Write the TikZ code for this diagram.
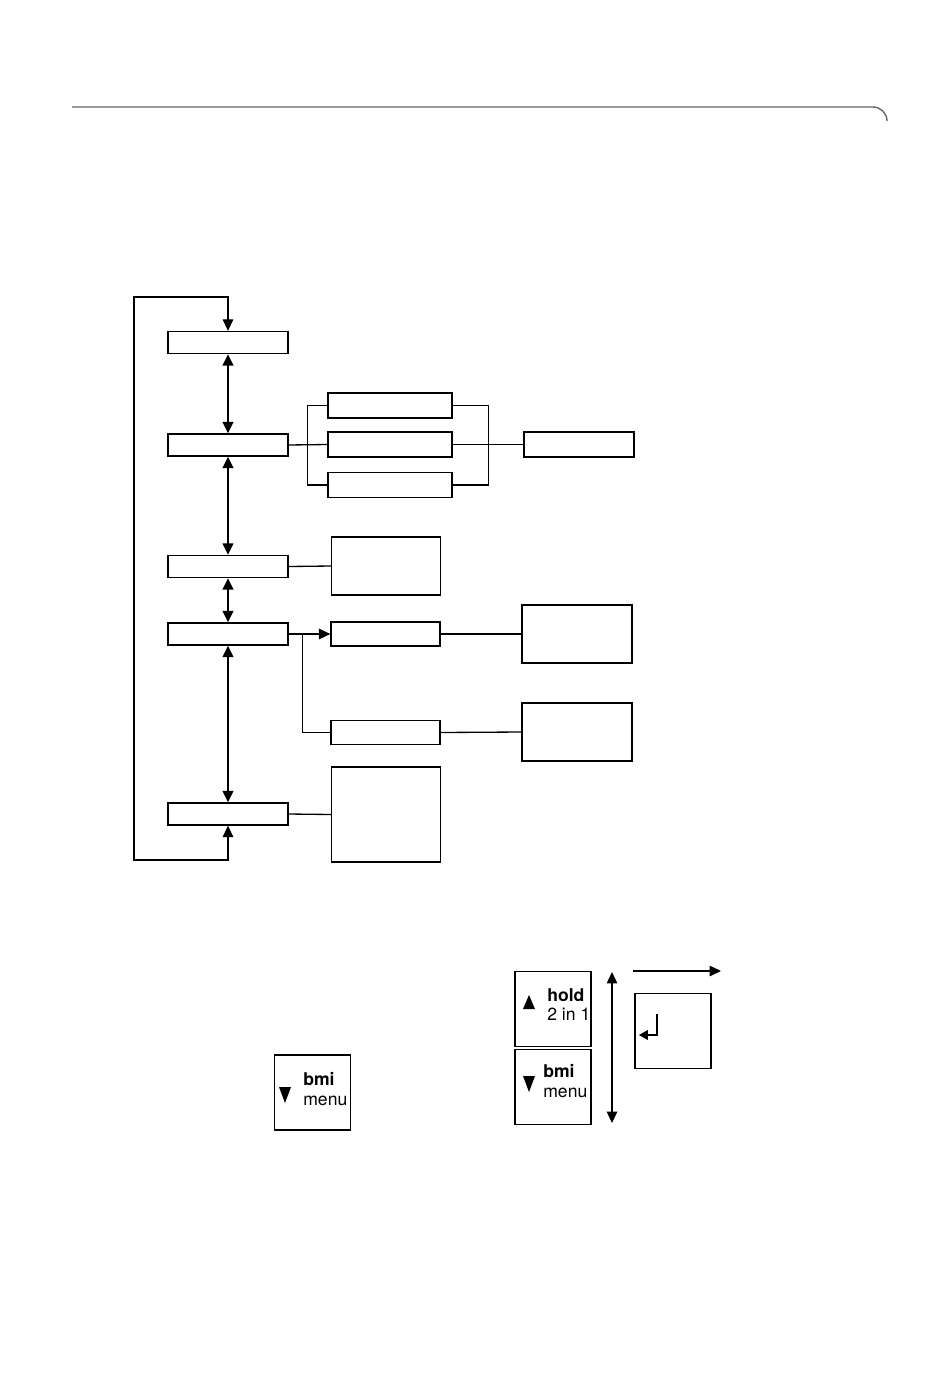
\documentclass[tikz,border=0pt]{standalone}
\usepackage{fontspec}
\setmainfont{TeX Gyre Heros}
\usetikzlibrary{arrows.meta}

\begin{document}
\begin{tikzpicture}[x=0.02cm,y=-0.02cm,
    box/.style={draw,line width=0.75pt,inner sep=0pt,minimum width=2.4cm,minimum height=0.44cm},
    subbox/.style={draw,line width=0.75pt,inner sep=0pt,minimum width=2.48cm,minimum height=0.5cm},
    infobox/.style={draw,line width=0.75pt,inner sep=0pt,minimum width=2.18cm},
    key/.style={draw,line width=0.6pt,inner sep=0pt,minimum width=1.52cm,minimum height=1.5cm},
    keytext/.style={inner sep=0pt,anchor=base west,font=\fontsize{10}{12}\selectfont},
    link/.style={line width=0.75pt},
    tip/.style={-{Triangle[length=6.5pt,width=6pt]}},
    dbl/.style={line width=1.2pt,{Triangle[length=6.5pt,width=6pt]}-{Triangle[length=6.5pt,width=6pt]}}]
    \useasboundingbox (0,0) rectangle (950,1375);
    \draw[line width=0.8pt,black!60] (72,107) -- (873,107) arc[start angle=-90,end angle=0,radius=14];

    \node[box] (menu1) at (228,342.5) {};
    \node[box] (menu2) at (228,445) {};
    \node[box] (menu3) at (228,566.5) {};
    \node[box] (menu4) at (228,634) {};
    \node[box] (menu5) at (228,814) {};

    \node[subbox] (optA) at (390,405.5) {};
    \node[subbox] (optB) at (390,444.5) {};
    \node[subbox] (optC) at (390,485) {};
    \node[subbox,minimum width=2.2cm] (optRes) at (579,444.5) {};
    \node[infobox,minimum height=1.16cm] (info3) at (386,566) {};
    \node[subbox,minimum width=2.18cm,minimum height=0.48cm] (mode1) at (385.5,634) {};
    \node[subbox,minimum width=2.18cm,minimum height=0.48cm] (mode2) at (385.5,732.5) {};
    \node[infobox,minimum width=2.2cm,minimum height=1.16cm] (res1) at (577,634) {};
    \node[infobox,minimum width=2.2cm,minimum height=1.16cm] (res2) at (577,732) {};
    \node[infobox,minimum height=1.9cm] (info5) at (386,814.5) {};

    \coordinate (loopTop) at (134,297);
    \coordinate (loopBot) at (134,860);
    \draw[line width=0.6pt,{Triangle[length=6.5pt,width=6pt]}-{Triangle[length=6.5pt,width=6pt]}] (menu5.south) -- (menu5.south |- loopBot) -- (loopBot) -- (loopTop) -- (menu1.north |- loopTop) -- (menu1.north);
    \draw[dbl] (menu1.south) -- (menu2.north);
    \draw[dbl] (menu2.south) -- (menu3.north);
    \draw[dbl] (menu3.south) -- (menu4.north);
    \draw[dbl] (menu4.south) -- (menu5.north);

    \draw[link] (menu2.east) -- (optB.west);
    \draw[link] (optA.west) -- ++(-20,0) |- (optC.west);
    \draw[link] (optA.east) -- ++(36,0) |- (optC.east);
    \draw[link] (optB.east) -- (optRes.west);
    \draw[link] (menu3.east) -- (info3.west);
    \draw[link,tip] (menu4.east) -- (mode1.west);
    \draw[link] (menu4.east) -- ++(14,0) |- (mode2.west);
    \draw[link] (mode1.east) -- (res1.west);
    \draw[link] (mode2.east) -- (res2.west);
    \draw[link] (menu5.east) -- (info5.west);

    \node[key] (keyDown) at (312.5,1092.5) {};
    \node[key] (keyUp) at (553,1009) {};
    \node[key] (keyMenu) at (553,1087) {};
    \node[key] (keyEnter) at (673,1031) {};
    \node[keytext] (downBmi) at (303,1085) {\bfseries bmi};
    \node[keytext] (downMenu) at (303,1105) {menu};
    \node[keytext] (upHold) at (547,1001) {\bfseries hold};
    \node[keytext] (upTwo) at (547,1020) {2 in 1};
    \node[keytext] (menuBmi) at (543,1077) {\bfseries bmi};
    \node[keytext] (menuMenu) at (543,1097) {menu};
    \fill (279,1087) -- (291,1087) -- (285,1103) -- cycle;
    \fill (523,1009) -- (535,1009) -- (529,995) -- cycle;
    \fill (523,1076) -- (535,1076) -- (529,1092) -- cycle;

    \coordinate (scrollTop) at (612,972);
    \coordinate (scrollBot) at (612,1123);
    \draw[line width=0.6pt,{Triangle[length=6.5pt,width=6pt]}-{Triangle[length=6.5pt,width=6pt]}] (scrollTop) -- (scrollBot);
    \coordinate (nextL) at (633,971);
    \coordinate (nextR) at (721,971);
    \draw[line width=0.6pt,tip] (nextL) -- (nextR);
    \draw[line width=0.6pt,-{Triangle[length=5pt,width=5.5pt]}] (657,1014) -- (657,1035) -- (639,1035);
\end{tikzpicture}
\end{document}
